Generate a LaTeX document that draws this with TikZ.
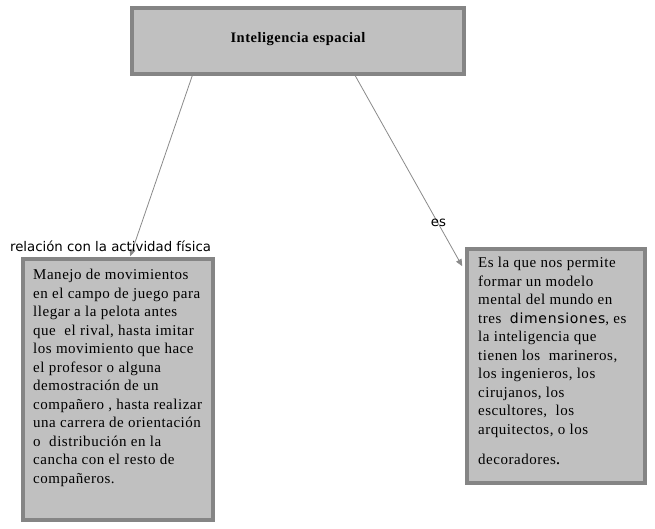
\documentclass[tikz,border=0pt]{standalone}
\usepackage{fontspec}
\setmainfont{Liberation Serif}[LetterSpace=3.5]
\newfontfamily\labelfont{DejaVu Sans}
\newfontfamily\dimfont{DejaVu Sans}[LetterSpace=5]
\usetikzlibrary{arrows.meta,calc}
\definecolor{boxfill}{HTML}{C0C0C0}
\definecolor{boxline}{HTML}{858585}
\definecolor{connline}{HTML}{8A8A8A}
\tikzset{
  box/.style={draw=boxline, fill=boxfill, line width=3.5pt, inner sep=0pt, rectangle},
  boxtext/.style={inner sep=0pt, anchor=north west, align=left, font=\fontsize{15}{18.5}\selectfont},
  conn/.style={draw=connline, line width=0.8pt, -{Triangle[length=7pt,width=6pt]}},
  lbl/.style={inner sep=0pt, font=\labelfont\fontsize{13.3}{15}\selectfont}
}
\begin{document}
\begin{tikzpicture}[x=1pt,y=-1pt]
\useasboundingbox (0,0) rectangle (655,529);
\node[box, minimum width=332pt, minimum height=66pt] (top) at (298,41) {};
\node[inner sep=0pt, font=\bfseries\fontsize{14.5}{16}\selectfont] (toptext) at (298,39) {Inteligencia espacial};
\node[box, minimum width=190pt, minimum height=261pt] (left) at (118,389.5) {};
\node[box, minimum width=178pt, minimum height=234pt] (right) at (556,366) {};
\node[boxtext] (lefttext) at (33,269) {Manejo de movimientos\\ en el campo de juego para\\ llegar a la pelota antes\\ que\ \ el rival, hasta imitar\\ los movimiento que hace\\ el profesor o alguna\\ demostración de un\\ compañero , hasta realizar\\ una carrera de orientación\\ o\ \ distribución en la\\ cancha con el resto de\\ compañeros.};
\node[boxtext] (righttext) at (478,257) {Es la que nos permite\\ formar un modelo\\ mental del mundo en\\ tres\ \ {\dimfont\fontsize{14}{18.5}\selectfont dimensiones}, es\\ la inteligencia que\\ tienen los\ \ marineros,\\ los ingenieros, los\\ cirujanos, los\\ escultores,\ \ los\\ arquitectos, o los\\[11.5pt] decoradores{\fontsize{18}{18.5}\selectfont .}};
\coordinate (ls) at ($(top.south west)+(62,0)$);
\coordinate (rs) at ($(top.south west)+(225,0)$);
\coordinate (le) at ($(left.north west)+(109,-1)$);
\coordinate (re) at ($(right.north west)+(-3,19)$);
\draw[conn] (ls) -- (le);
\draw[conn] (rs) -- (re);
\node[lbl] (lbl1) at (110.5,246) {relación con la actividad física};
\node[lbl] (lbl2) at (438.5,222.5) {es};
\end{tikzpicture}
\end{document}
